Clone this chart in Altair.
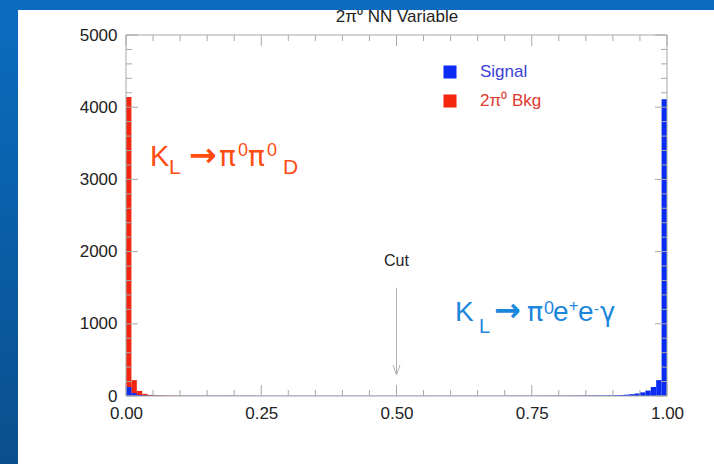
import altair as alt
import numpy as np
import pandas as pd

# Histogram of the NN output, 100 bins of width 0.01 over [0, 1]
bin_width = 0.01
bkg_counts = [
    4140, 220, 70, 30, 15, 10, 7, 5, 4, 4,
    3, 3, 3, 2, 2, 2, 2, 2, 2, 2,
    2, 2, 2, 2, 1, 1, 1, 1, 1, 1,
    1, 1, 1, 1, 1, 1, 1, 1, 1, 1,
    1, 1, 1, 1, 1, 1, 1, 1, 1, 1,
    1, 1, 1, 1, 1, 1, 1, 1, 1, 1,
    1, 1, 1, 1, 1, 1, 1, 1, 1, 1,
    1, 1, 1, 1, 1, 1, 1, 1, 1, 1,
    1, 1, 1, 1, 1, 1, 1, 1, 1, 1,
    1, 1, 1, 1, 1, 1, 1, 1, 1, 1,
]
signal_counts = [
    125, 40, 15, 8, 5, 4, 3, 3, 3, 3,
    3, 3, 3, 3, 3, 3, 3, 3, 3, 3,
    3, 3, 3, 3, 3, 3, 3, 3, 3, 3,
    3, 3, 3, 3, 3, 3, 3, 3, 3, 3,
    3, 3, 3, 3, 3, 3, 3, 3, 3, 3,
    3, 3, 3, 3, 3, 3, 3, 3, 3, 3,
    3, 3, 3, 3, 3, 3, 3, 3, 3, 3,
    4, 4, 4, 4, 4, 4, 4, 5, 5, 5,
    5, 5, 6, 6, 7, 7, 8, 8, 9, 10,
    11, 14, 18, 25, 35, 50, 75, 125, 220, 4110,
]
series_names = ["Signal", "2π\u2070 Bkg"]
series_colors = ["#0b2cf5", "#f5260f"]
legend_text_colors = ["#3b3fd8", "#e0392f"]

x_ticks_major = [0.0, 0.25, 0.5, 0.75, 1.0]
x_ticks_minor = [round(0.05 * i, 2) for i in range(21) if i % 5]
y_ticks_major = [0, 1000, 2000, 3000, 4000, 5000]
y_ticks_minor = [200 * i for i in range(26) if i % 5]

cut_value = 0.5

W, H = 541, 361
FONT = "Liberation Sans"
GREEK = "DejaVu Sans"
LABEL_SIZE = 17

starts = np.round(np.arange(100) * bin_width, 2)
hist = pd.concat([
    pd.DataFrame({"lo": starts, "hi": starts + bin_width, "n": bkg_counts,
                  "base": 0, "series": series_names[1], "order": 0}),
    pd.DataFrame({"lo": starts, "hi": starts + bin_width, "n": signal_counts,
                  "base": 0, "series": series_names[0], "order": 1}),
])

xs = alt.Scale(domain=[0, 1], nice=False, zero=False)
ys = alt.Scale(domain=[0, 5000], nice=False)

bars = alt.Chart(hist).mark_rect(stroke=None).encode(
    x=alt.X("lo:Q", scale=xs, title=None,
            axis=alt.Axis(values=x_ticks_major, format=".2f", ticks=False, domain=False,
                          grid=False, labelPadding=9, labelFontSize=LABEL_SIZE,
                          labelFont=FONT, labelColor="#222222", labelFlush=False)),
    x2="hi:Q",
    y=alt.Y("n:Q", scale=ys, title=None,
            axis=alt.Axis(values=y_ticks_major, format="d", ticks=False, domain=False,
                          grid=False, labelPadding=9, labelFontSize=LABEL_SIZE,
                          labelFont=FONT, labelColor="#222222", labelFlush=False)),
    y2="base:Q",
    color=alt.Color("series:N", scale=alt.Scale(domain=series_names, range=series_colors),
                    legend=None),
    order=alt.Order("order:Q"),
)

one = pd.DataFrame({"a": [0]})

# Plot frame
frame = alt.Chart(one).mark_rect(
    fill=None, stroke="#a8a8a8", strokeWidth=1
).encode(x=alt.value(0), x2=alt.value(W), y=alt.value(0), y2=alt.value(H))

# Inward-pointing ticks on all four sides
def xticks(vals, length):
    d = pd.DataFrame({"lo": vals})
    bottom = alt.Chart(d).mark_rule(color="#a8a8a8").encode(
        x=alt.X("lo:Q", scale=xs), y=alt.value(H), y2=alt.value(H - length))
    top = alt.Chart(d).mark_rule(color="#a8a8a8").encode(
        x=alt.X("lo:Q", scale=xs), y=alt.value(0), y2=alt.value(length))
    return [bottom, top]

def yticks(vals, length):
    d = pd.DataFrame({"n": vals})
    left = alt.Chart(d).mark_rule(color="#a8a8a8").encode(
        y=alt.Y("n:Q", scale=ys), x=alt.value(0), x2=alt.value(length))
    right = alt.Chart(d).mark_rule(color="#a8a8a8").encode(
        y=alt.Y("n:Q", scale=ys), x=alt.value(W - length), x2=alt.value(W))
    return [left, right]

ticks = xticks(x_ticks_minor, 6) + xticks(x_ticks_major, 11) + \
    yticks(y_ticks_minor, 6) + yticks(y_ticks_major, 12)

# Cut marker
cut_df = pd.DataFrame({"lo": [cut_value], "n": [1500], "n2": [300]})
cut_line = alt.Chart(cut_df).mark_rule(color="#b0b0b0", strokeWidth=1).encode(
    x=alt.X("lo:Q", scale=xs), y=alt.Y("n:Q", scale=ys), y2="n2:Q")
cut_head = alt.Chart(cut_df).mark_point(
    shape="M-0.7,-1L0,1L0.7,-1", filled=False, color="#b0b0b0", size=100,
    strokeWidth=1, opacity=1
).encode(x=alt.X("lo:Q", scale=xs), y=alt.value(H - 26))
cut_text = alt.Chart(cut_df).mark_text(
    text="Cut", font=FONT, fontSize=16, color="#222222", baseline="middle", align="center"
).encode(x=alt.X("lo:Q", scale=xs), y=alt.value(226))

# Legend (top right, inside the frame)
legend_layers = []
for i, (name, c, tc) in enumerate(zip(series_names, series_colors, legend_text_colors)):
    yy = 37 + 29 * i
    legend_layers.append(
        alt.Chart(one).mark_square(size=170, color=c, opacity=1)
        .encode(x=alt.value(324), y=alt.value(yy)))
    legend_layers.append(
        alt.Chart(one).mark_text(text=name, font=FONT, fontSize=17, color=tc,
                                 align="left", baseline="middle")
        .encode(x=alt.value(354), y=alt.value(yy)))

# Decay-channel labels built from pieces (sub/superscripts)
def label(pieces, color):
    out = []
    for t, x, y, s, font, weight in pieces:
        out.append(
            alt.Chart(one).mark_text(text=t, font=font, fontSize=s, fontWeight=weight,
                                     color=color, align="left", baseline="alphabetic")
            .encode(x=alt.value(x), y=alt.value(y)))
    return out

ARROW = "DejaVu Sans"
bkg_label = label([
    ("K", 24, 131, 29, FONT, "normal"), ("L", 43, 139, 21, FONT, "normal"),
    ("\u2192", 63, 131, 33, ARROW, "bold"), ("\u03c0", 93, 131, 28, GREEK, "normal"),
    ("0", 112, 121, 18, FONT, "normal"), ("\u03c0", 122, 131, 28, GREEK, "normal"),
    ("0", 141, 121, 18, FONT, "normal"), ("D", 157, 139, 21, FONT, "normal"),
], "#ff4d12")

sig_label = label([
    ("K", 329, 286, 28, FONT, "normal"), ("L", 353, 298, 20, FONT, "normal"),
    ("\u2192", 368, 286, 32, ARROW, "bold"), ("\u03c0", 401, 286, 27, GREEK, "normal"),
    ("0", 418, 279, 18, FONT, "normal"), ("e", 427, 286, 28, FONT, "normal"),
    ("+", 443, 276, 16, FONT, "normal"), ("e", 452, 286, 28, FONT, "normal"),
    ("-", 468, 279, 15, FONT, "normal"), ("\u03b3", 474, 286, 26, GREEK, "normal"),
], "#1a86dc")

# Title, partly hidden under the slide banner
title = alt.Chart(one).mark_text(
    text="2\u03c0\u2070 NN Variable", font=FONT, fontSize=17, color="#222222",
    align="center", baseline="alphabetic"
).encode(x=alt.value(271), y=alt.value(-13))

# Slide background: blue bar on top and gradient strip on the left
blue_grad = alt.LinearGradient(
    gradient="linear", x1=0, y1=0, x2=0, y2=1,
    stops=[alt.GradientStop(color="#0b6dc1", offset=0),
           alt.GradientStop(color="#0a4f8d", offset=1)])
left_strip = alt.Chart(one).mark_rect(color=blue_grad).encode(
    x=alt.value(-126), x2=alt.value(-108), y=alt.value(-35), y2=alt.value(429))
top_band = alt.Chart(one).mark_rect(color="#0b6cbf").encode(
    x=alt.value(-126), x2=alt.value(588), y=alt.value(-35), y2=alt.value(-25))

chart = alt.layer(
    bars, frame, *ticks, cut_line, cut_head, cut_text, *legend_layers,
    *bkg_label, *sig_label, title, left_strip, top_band
).properties(
    width=W, height=H,
    autosize=alt.AutoSizeParams(type="none"),
    padding={"left": 126, "top": 35, "right": 47, "bottom": 68},
    background="white",
).configure_view(stroke=None)

chart.save("out.html", embed_options={"renderer": "svg", "actions": False})
